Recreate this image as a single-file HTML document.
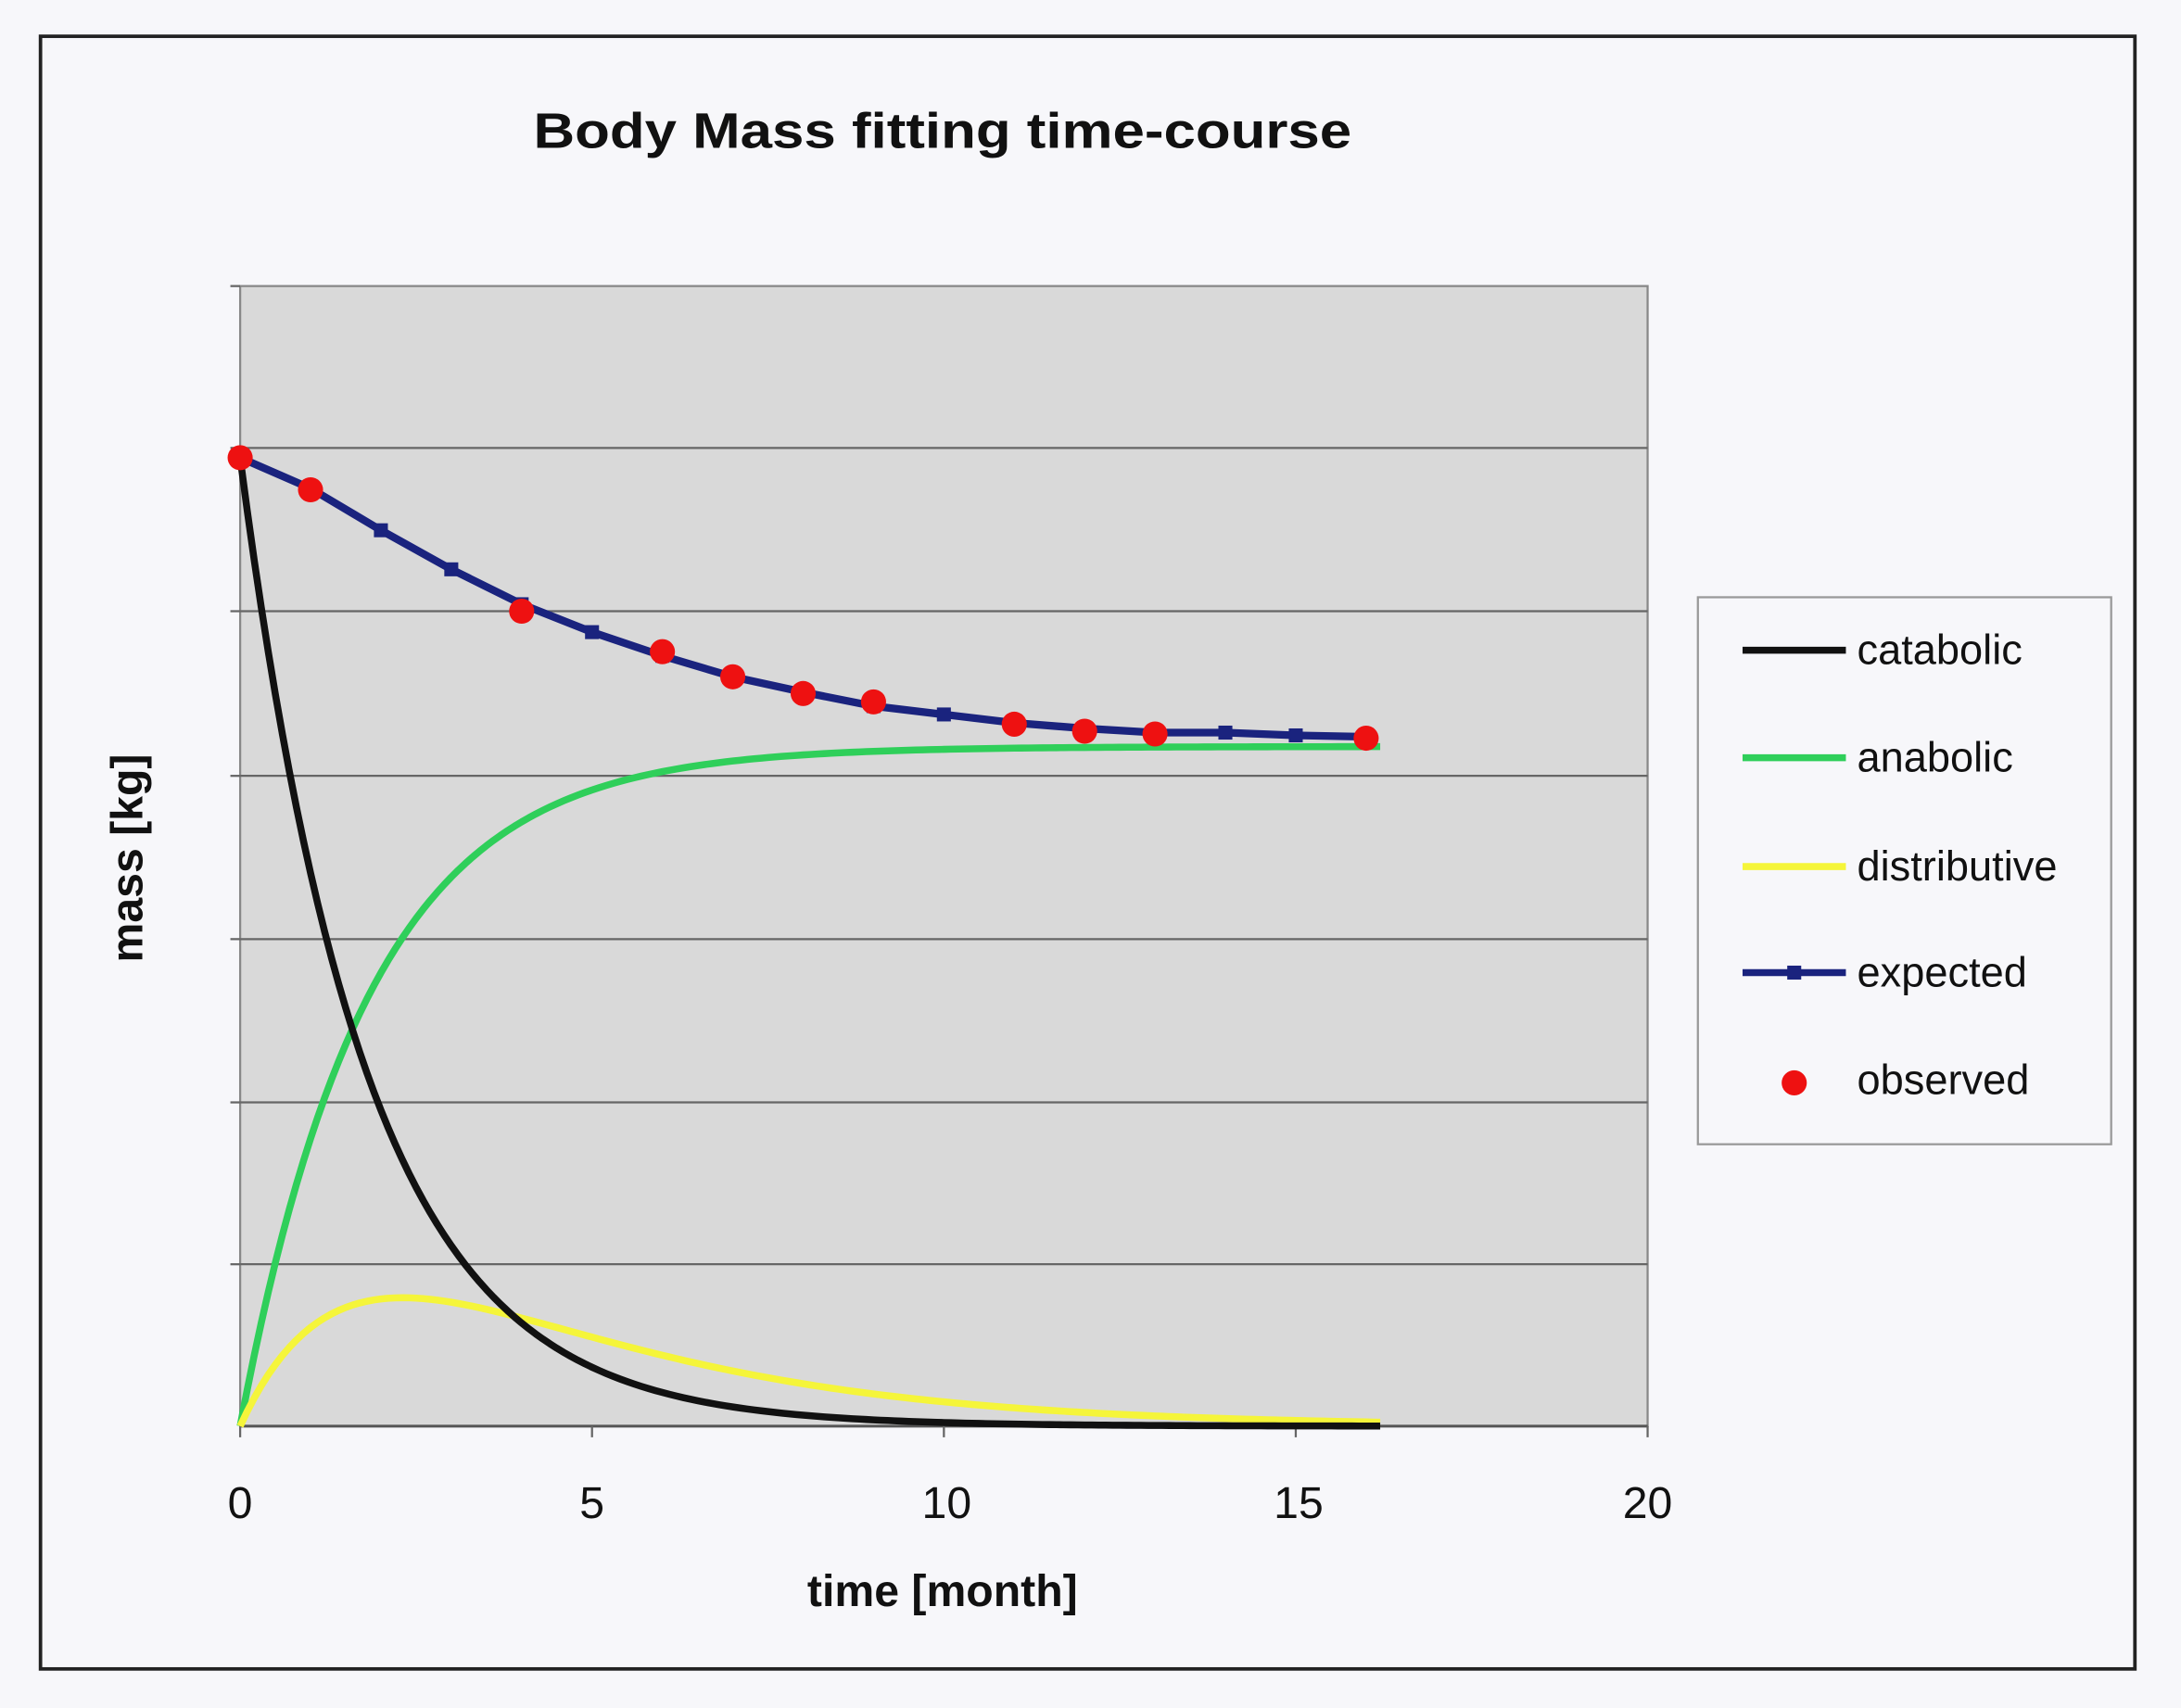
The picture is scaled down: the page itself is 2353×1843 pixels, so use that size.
<!DOCTYPE html>
<html><head><meta charset="utf-8"><style>
html,body{margin:0;padding:0;background:#f7f7fa;}
svg{display:block;}
text{font-family:"Liberation Sans",Arial,sans-serif;}
</style></head><body>
<svg width="2353" height="1843" viewBox="0 0 1562 1224" preserveAspectRatio="none" xmlns="http://www.w3.org/2000/svg">
<rect x="0" y="0" width="1562" height="1224" fill="#f7f7fa"/>
<rect x="29" y="26" width="1500" height="1170" fill="#f7f7fa" stroke="#222" stroke-width="2.5"/>
<text x="675" y="106" text-anchor="middle" font-size="36" font-weight="bold" fill="#111" textLength="586" lengthAdjust="spacingAndGlyphs">Body Mass fitting time-course</text>
<rect x="172" y="205" width="1008" height="817" fill="#d9d9d9" stroke="#888" stroke-width="1.5"/>
<g stroke="#666" stroke-width="1.5">
<line x1="172" y1="321" x2="1180" y2="321"/><line x1="172" y1="438" x2="1180" y2="438"/>
<line x1="172" y1="556" x2="1180" y2="556"/><line x1="172" y1="673" x2="1180" y2="673"/>
<line x1="172" y1="790" x2="1180" y2="790"/><line x1="172" y1="906" x2="1180" y2="906"/>
<line x1="172" y1="1022" x2="1180" y2="1022" stroke="#555" stroke-width="2"/>
<line x1="165" y1="205" x2="172" y2="205"/><line x1="165" y1="321" x2="172" y2="321"/><line x1="165" y1="438" x2="172" y2="438"/><line x1="165" y1="556" x2="172" y2="556"/><line x1="165" y1="673" x2="172" y2="673"/><line x1="165" y1="790" x2="172" y2="790"/><line x1="165" y1="906" x2="172" y2="906"/>
<line x1="172" y1="1022" x2="172" y2="1030"/><line x1="424" y1="1022" x2="424" y2="1030"/><line x1="676" y1="1022" x2="676" y2="1030"/><line x1="928" y1="1022" x2="928" y2="1030"/><line x1="1180" y1="1022" x2="1180" y2="1030"/>
</g>
<g font-size="32" fill="#111" text-anchor="middle">
<text x="172" y="1088">0</text><text x="424" y="1088">5</text><text x="678" y="1088">10</text><text x="930" y="1088">15</text><text x="1180" y="1088">20</text>
</g>
<text x="675" y="1151" text-anchor="middle" font-size="32" font-weight="bold" fill="#111">time [month]</text>
<text transform="translate(102,615) rotate(-90)" text-anchor="middle" font-size="32" font-weight="bold" fill="#111">mass [kg]</text>
<g id="curves"></g>
<rect x="1216" y="428" width="296" height="392" fill="#f7f7fa" stroke="#999" stroke-width="1.5"/>
<line x1="1248" y1="466" x2="1322" y2="466" stroke="#111" stroke-width="5"/>
<line x1="1248" y1="543" x2="1322" y2="543" stroke="#2fcf5a" stroke-width="5"/>
<line x1="1248" y1="621" x2="1322" y2="621" stroke="#f5f53a" stroke-width="5"/>
<line x1="1248" y1="697" x2="1322" y2="697" stroke="#1a237e" stroke-width="5"/>
<rect x="1280" y="692" width="10" height="10" fill="#1a237e"/>
<circle cx="1285" cy="776" r="9" fill="#ee1111"/>
<g font-size="30" fill="#111">
<text x="1330" y="476">catabolic</text><text x="1330" y="553">anabolic</text><text x="1330" y="631">distributive</text><text x="1330" y="707">expected</text><text x="1330" y="784">observed</text>
</g>
</svg>
<script>
const g=document.getElementById('curves');const NS='http://www.w3.org/2000/svg';
const X=t=>172+t*50.4;
function path(pts,color,w){const p=document.createElementNS(NS,'polyline');p.setAttribute('points',pts.map(a=>a.join(',')).join(' '));p.setAttribute('fill','none');p.setAttribute('stroke',color);p.setAttribute('stroke-width',w);p.setAttribute('stroke-linejoin','round');g.appendChild(p);}
let cat=[],ana=[],dis=[];
for(let i=0;i<=162;i++){const t=i/10;
cat.push([X(t),1022-694*Math.exp(-0.56*t)]);
ana.push([X(t),1022-487*(1-Math.exp(-0.55*t))]);
dis.push([X(t),1022-368*(Math.exp(-0.3*t)-Math.exp(-0.6*t))]);}
path(ana,'#2fcf5a',5);path(dis,'#f5f53a',5);path(cat,'#111',5);
const ex=[328,350,380,408,433,453,470,485,496,506,512,518,522,525,525,527,528];
path(ex.map((y,t)=>[X(t),y]),'#1a237e',5.5);
ex.forEach((y,t)=>{const r=document.createElementNS(NS,'rect');r.setAttribute('x',X(t)-5);r.setAttribute('y',y-5);r.setAttribute('width',10);r.setAttribute('height',10);r.setAttribute('fill','#1a237e');g.appendChild(r);});
const ob={0:328,1:351,4:438,6:467,7:485,8:497,9:503,11:519,12:524,13:526,16:529};
for(const t in ob){const c=document.createElementNS(NS,'circle');c.setAttribute('cx',X(+t));c.setAttribute('cy',ob[t]);c.setAttribute('r',9);c.setAttribute('fill','#ee1111');g.appendChild(c);}
</script>
</body></html>
